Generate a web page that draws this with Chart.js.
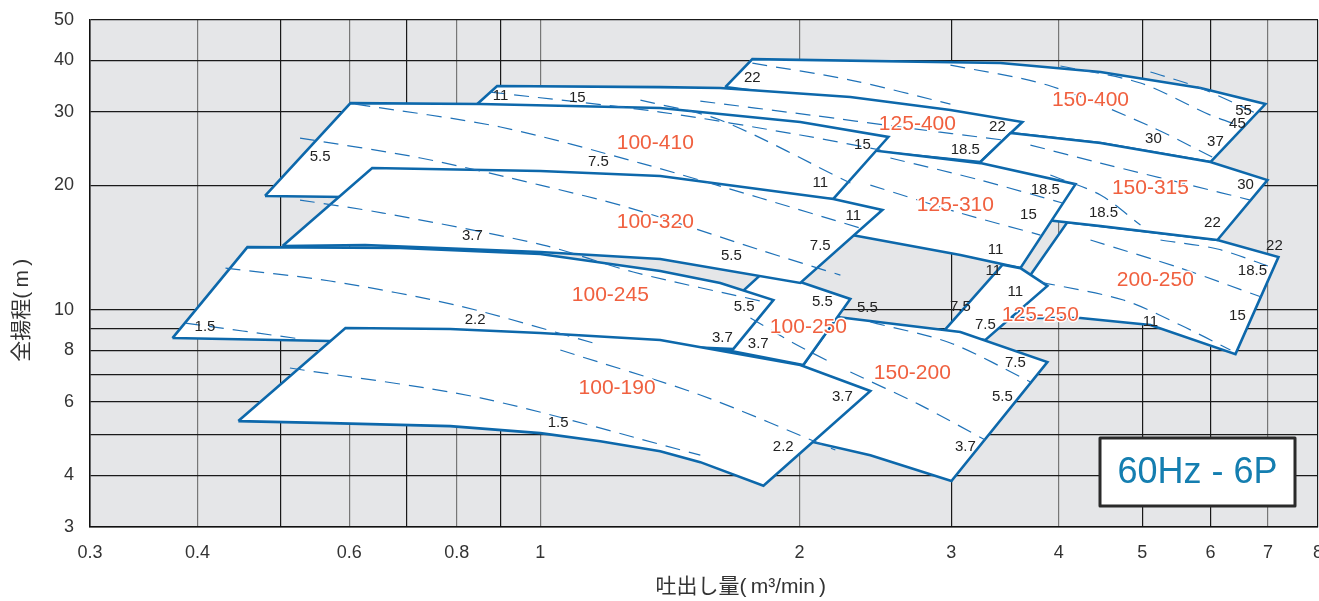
<!DOCTYPE html>
<html><head><meta charset="utf-8">
<script src="https://cdn.jsdelivr.net/npm/chart.js@4/dist/chart.umd.min.js"></script>
<style>html,body{margin:0;padding:0;background:#fff}#wrap{width:1319px;height:601px;position:relative}</style>
</head><body><div id="wrap"><canvas id="c"></canvas></div>
<script>
const xTickValues=[0.3,0.4,0.5,0.6,0.7,0.8,0.9,1,2,3,4,5,6,7,8];
const xTickLabels=[0.3,0.4,0.6,0.8,1,2,3,4,5,6,7,8];
const yTickValues=[3,4,5,6,7,8,9,10,20,30,40,50];
const yTickLabels=[3,4,6,8,10,20,30,40,50];

// pump ranges [flow m3/min, head m]
const r150_400=[[1.640,34.46],[1.763,40.25],[3.422,39.37],[4.472,37.46],[5.843,34.27],[6.950,31.36],[6.0,22.73],[4.472,25.26],[3.515,26.70],[2.619,30.33]];
const r125_400=[[0.845,31.36],[0.891,34.66],[1.378,34.46],[1.618,34.27],[2.291,32.61],[2.994,30.33],[3.629,28.38],[3.243,22.73],[2.483,24.03],[1.534,27.91]];
const r200_250=[[3.422,9.57],[4.094,16.29],[6.114,14.75],[7.197,13.42],[6.416,7.83],[5.111,9.20],[4.239,9.57]];
const r150_315=[[3.243,22.73],[3.515,26.70],[4.472,25.26],[6.0,22.73],[6.988,20.57],[6.114,14.75],[4.472,15.94],[3.422,16.94]];
const r125_310=[[2.004,15.94],[2.417,24.30],[3.243,22.60],[4.183,20.11],[3.610,12.62],[3.075,13.57],[2.334,15.08]];
const r125_250=[[2.915,8.71],[3.440,12.85],[3.610,12.62],[3.880,11.43],[3.287,8.47]];
const r150_200=[[2.212,9.62],[3.075,8.85],[3.880,7.49],[3.002,3.87],[2.417,4.47],[2.070,4.81],[1.940,5.49],[2.020,7.37]];
const r100_410=[[0.479,18.83],[0.602,31.53],[0.852,31.36],[1.378,30.67],[2.004,28.38],[2.536,26.12],[2.189,18.52],[1.174,18.62],[0.594,18.72]];
const r100_250=[[1.534,8.95],[1.801,12.14],[2.004,11.68],[2.291,10.63],[2.020,7.37],[1.534,8.24]];
const r100_320=[[0.502,14.26],[0.638,21.99],[1.0,21.63],[1.378,21.03],[2.189,18.52],[2.496,17.42],[2.004,11.62],[1.378,13.27],[1.0,13.80],[0.626,14.34]];
const r100_245=[[0.374,8.56],[0.457,14.18],[0.688,14.11],[1.0,13.65],[1.378,12.42],[1.618,11.62],[1.865,10.57],[1.675,8.05],[1.174,8.33],[0.786,8.37],[0.570,8.42]];
const r100_190=[[0.446,5.40],[0.594,9.05],[0.786,9.00],[1.0,8.80],[1.378,8.47],[2.004,7.37],[2.417,6.38],[1.816,3.77],[1.534,4.30],[1.378,4.57],[1.174,4.83],[1.0,5.05],[0.786,5.25],[0.570,5.34]];
const regionOrder=[r150_400,r125_400,r200_250,r150_315,r125_310,r125_250,r150_200,r100_410,r100_250,r100_320,r100_245,r100_190];

// motor power boundary lines (dashed)
const d1=[[0.512,7.25],[0.852,6.14],[1.534,4.47]];
const d2=[[1.055,8.01],[1.534,6.24],[2.201,4.60]];
const d3=[[0.387,9.30],[0.526,8.52]];
const d4=[[0.431,12.62],[0.570,11.75],[0.807,10.22],[1.174,8.24]];
const d5=[[0.526,18.41],[0.657,17.13],[1.008,14.34],[1.282,12.35],[1.826,10.45]];
const d6=[[0.526,25.97],[0.726,23.25],[1.0,20.0],[1.272,17.61],[1.801,13.95],[2.231,12.14]];
const d7=[[0.610,31.36],[0.899,27.61],[1.307,22.60],[1.801,18.62],[2.353,15.76]];
const d8=[[1.307,32.06],[1.618,28.70],[2.291,20.23]];
const d9=[[0.875,33.52],[1.378,30.0],[2.004,26.41],[2.483,24.30]];
const d10=[[1.534,31.88],[2.059,29.50],[2.619,27.61],[3.449,25.68]];
const d11=[[1.763,39.37],[2.291,35.83],[2.994,31.36]];
const d12=[[2.994,38.94],[3.880,34.85],[5.070,27.91],[6.032,23.37]];
const d13=[[4.018,38.73],[4.977,35.24],[6.0,29.50],[6.555,27.61]];
const d14=[[5.111,37.46],[5.843,34.27],[6.768,29.83]];
const d15=[[3.708,24.98],[4.472,22.60],[5.687,20.0],[6.677,18.41]];
const d16=[[3.911,21.15],[4.472,18.93],[4.977,16.03]];
const d17=[[5.250,14.75],[6.114,14.03],[7.005,12.76]];
const d18=[[4.354,14.75],[5.537,12.62],[6.875,10.75]];
const d19=[[3.808,11.68],[4.755,10.57],[5.537,9.20],[6.330,8.01]];
const d20=[[2.550,23.25],[3.243,20.57],[4.040,18.11]];
const d21=[[2.417,20.0],[3.075,17.13],[3.808,15.16]];
const d22=[[2.417,9.36],[2.994,8.33],[3.708,6.71]];
const d23=[[2.291,7.09],[2.763,5.90],[3.287,4.86]];
const d24=[[1.754,9.57],[1.967,8.33],[2.172,7.49]];
const dashLines=[d1,d2,d3,d4,d5,d6,d7,d8,d9,d10,d11,d12,d13,d14,d15,d16,d17,d18,d19,d20,d21,d22,d23,d24];

// motor kW labels
const kwText=['1.5','2.2','1.5','3.7','5.5','7.5','11','15','22','15','11','18.5','22','30','37','45','55','30','18.5','15','18.5','22','22','18.5','15','11','11','7.5','5.5','11','11','11','7.5','7.5','5.5','3.7','5.5','5.5','3.7','7.5','5.5','3.7','2.2','3.7'];
const kwQ=[0.408,0.840,1.049,0.834,0.555,1.168,0.899,1.104,1.763,2.366,2.114,3.116,3.395,5.152,6.081,6.450,6.555,6.590,3.859,3.688,4.508,6.032,7.120,6.714,6.450,5.111,2.309,2.114,1.667,3.377,3.358,3.562,3.075,3.287,1.725,1.627,2.126,2.398,1.791,3.562,3.440,2.243,1.915,3.116];
const kwH=[9.10,9.46,5.34,15.08,23.37,22.73,32.79,32.43,36.23,24.98,20.23,24.30,27.61,25.83,25.40,28.07,30.16,20.0,19.46,16.94,17.13,16.20,14.26,12.42,9.67,9.36,16.85,14.26,13.50,13.95,12.42,11.05,10.17,9.20,10.17,8.56,10.45,10.11,8.28,7.45,6.17,6.17,4.68,4.68];

// model names
const modelNames=['100-410','125-400','150-400','100-320','125-310','150-315','200-250','100-245','100-250','125-250','150-200','100-190'];
const modelQ=[1.360,2.741,4.354,1.360,3.034,5.111,5.179,1.206,2.048,3.808,2.704,1.228];
const modelH=[25.26,28.07,32.06,16.29,17.91,19.68,11.81,10.87,9.10,9.72,7.05,6.49];

const BLUE='#0d68ab';
const FONT="'Liberation Sans', Arial, 'Noto Sans CJK JP', sans-serif";

const datasets=[];
regionOrder.forEach((r,i)=>{
  const pts=r.map(p=>({x:p[0],y:p[1]}));
  pts.push({x:r[0][0],y:r[0][1]});
  datasets.push({data:pts,isRegion:true,showLine:true,borderColor:BLUE,borderWidth:2.6,pointRadius:0,tension:0,order:1000-i,borderJoinStyle:'miter'});
});
dashLines.forEach(d=>{
  datasets.push({data:d.map(p=>({x:p[0],y:p[1]})),showLine:true,borderColor:'#1f72b8',borderWidth:1.2,borderDash:[15,9],pointRadius:0,tension:0.3,order:0});
});

const bgPlugin={id:'bg',beforeDraw(chart){const {ctx,chartArea:a}=chart;ctx.save();ctx.fillStyle='#e5e6e8';ctx.fillRect(a.left,a.top,a.right-a.left,a.bottom-a.top);ctx.restore();}};
const regionFill={id:'regionFill',beforeDatasetDraw(chart,args){
  const ds=chart.data.datasets[args.index]; if(!ds.isRegion) return;
  const pts=args.meta.data; const {ctx,chartArea:a}=chart;
  ctx.save();ctx.beginPath();ctx.rect(a.left,a.top,a.right-a.left,a.bottom-a.top);ctx.clip();
  ctx.beginPath();pts.forEach((p,k)=>k?ctx.lineTo(p.x,p.y):ctx.moveTo(p.x,p.y));ctx.closePath();
  ctx.fillStyle='#ffffff';ctx.fill();ctx.restore();
}};
const textPlugin={id:'texts',afterDatasetsDraw(chart){
  const {ctx,scales:{x,y},chartArea:a}=chart;
  ctx.save();ctx.textAlign='center';ctx.textBaseline='middle';
  ctx.font='15px '+FONT;ctx.fillStyle='#222';
  kwText.forEach((t,i)=>ctx.fillText(t,x.getPixelForValue(kwQ[i]),y.getPixelForValue(kwH[i])));
  ctx.font='21px '+FONT;ctx.lineJoin='round';
  modelNames.forEach((t,i)=>{const px=x.getPixelForValue(modelQ[i]),py=y.getPixelForValue(modelH[i]);
    ctx.strokeStyle='#fff';ctx.lineWidth=3;ctx.strokeText(t,px,py);ctx.fillStyle='#f0603f';ctx.fillText(t,px,py);});
  // frequency / poles box
  const bx=a.right-218,by=a.bottom-89,bw=195,bh=68;
  ctx.fillStyle='#fff';ctx.fillRect(bx,by,bw,bh);ctx.strokeStyle='#2a2a2a';ctx.lineWidth=3;ctx.strokeRect(bx,by,bw,bh);
  ctx.font='36px '+FONT;ctx.fillStyle='#147eb0';ctx.fillText('60Hz - 6P',bx+bw/2,by+bh/2+1);
  ctx.restore();
}};

const grayX=[0.4,0.6,0.8,1,2,4,7];
new Chart(document.getElementById('c'),{
  type:'scatter',
  data:{datasets},
  plugins:[bgPlugin,regionFill,textPlugin],
  options:{
    responsive:true,maintainAspectRatio:false,animation:false,
    layout:{padding:{top:20,right:1,left:0,bottom:0}},
    plugins:{legend:{display:false},tooltip:{enabled:false}},
    scales:{
      x:{type:'logarithmic',min:0.3,max:8,
        afterBuildTicks:s=>{s.ticks=xTickValues.map(v=>({value:v}));},
        afterFit:s=>{s.height=74;s.paddingLeft=0;s.paddingRight=0;},
        ticks:{autoSkip:false,maxRotation:0,padding:15,color:'#333',font:{size:18,family:FONT},callback:v=>xTickLabels.includes(v)?String(v):''},
        grid:{drawTicks:false,lineWidth:1.2,color:c=>grayX.includes(c.tick&&c.tick.value)?'#777':'#1a1a1a'},
        border:{display:true,color:'#111',width:1.5},
        title:{display:true,text:'\u3000\u3000\u3000\u2002吐出し量(\u2009m³/min\u2009)',color:'#333',font:{size:21,family:FONT},padding:{top:0,bottom:1}}
      },
      y:{type:'logarithmic',min:3,max:50,
        afterBuildTicks:s=>{s.ticks=yTickValues.map(v=>({value:v}));},
        afterFit:s=>{s.width=90;s.paddingTop=0;s.paddingBottom=0;},
        ticks:{autoSkip:false,padding:16,color:'#333',font:{size:18,family:FONT},callback:v=>yTickLabels.includes(v)?String(v):''},
        grid:{drawTicks:false,lineWidth:1.2,color:'#1a1a1a'},
        border:{display:true,color:'#111',width:1.5},
        title:{display:true,text:'全揚程(\u2009m\u2009)\u3000\u3000\u3000\u2002',color:'#333',font:{size:21,family:FONT},padding:{top:10,bottom:0}}
      }
    }
  }
});
</script></body></html>
